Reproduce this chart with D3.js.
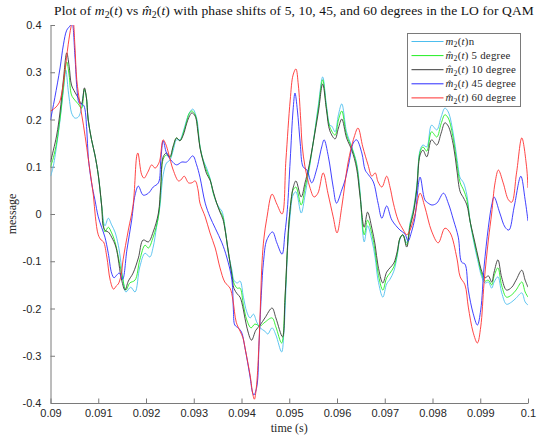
<!DOCTYPE html>
<html>
<head>
<meta charset="utf-8">
<script src="https://cdn.jsdelivr.net/npm/d3@7"></script>
<style>
  body { margin: 0; background: #fff; }
  svg { display: block; }
</style>
</head>
<body>
<svg id="chart" width="537" height="439"></svg>
<script>
// ---- data ----
const xTicks = [0.09, 0.091, 0.092, 0.093, 0.094, 0.095, 0.096, 0.097, 0.098, 0.099, 0.1];
const xTickLabels = ['0.09', '0.091', '0.092', '0.093', '0.094', '0.095', '0.096', '0.097', '0.098', '0.099', '0.1'];
const yTicks = [-0.4, -0.3, -0.2, -0.1, 0, 0.1, 0.2, 0.3, 0.4];
const yTickLabels = ['-0.4', '-0.3', '-0.2', '-0.1', '0', '0.1', '0.2', '0.3', '0.4'];

const seriesLabels = ['n', ' 5 degree', ' 10 degree', ' 45 degree', ' 60 degree'];
const seriesHat = [false, true, true, true, true];
const seriesColors = ['#4DBEEE', '#22ee22', '#3a3a3a', '#2b2bff', '#ff3030'];

// m2(t) original
const tOrig = [0.09, 0.09005, 0.09013, 0.0902, 0.09027, 0.09032, 0.09037, 0.09041, 0.09044, 0.09051, 0.09058, 0.09063, 0.09071, 0.09075, 0.09079, 0.09086, 0.09093,
  0.091, 0.09107, 0.09114, 0.09121, 0.09128, 0.09135, 0.09142, 0.09146, 0.09152, 0.09158, 0.09168, 0.09177, 0.09187, 0.09198, 0.09208, 0.09215, 0.09222, 0.09229,
  0.09236, 0.09243, 0.0925, 0.09257, 0.09264, 0.09271, 0.09278, 0.09285, 0.09292, 0.09298, 0.09306, 0.09313, 0.0932, 0.09327, 0.09334, 0.09341, 0.09348, 0.09355,
  0.09359, 0.09365, 0.09372, 0.0938, 0.09384, 0.09391, 0.09397, 0.09404, 0.09411, 0.09418, 0.09425, 0.09432, 0.09439, 0.09449, 0.09455, 0.09464, 0.09472, 0.09484,
  0.09489, 0.09493, 0.09497, 0.09502, 0.09508, 0.09514, 0.09525, 0.09533, 0.0954, 0.0955, 0.09561, 0.0957, 0.09578, 0.09585, 0.09589, 0.09596, 0.09603, 0.0961,
  0.0962, 0.09631, 0.09641, 0.09648, 0.09657, 0.09664, 0.09673, 0.0968, 0.09686, 0.09696, 0.09704, 0.09711, 0.09719, 0.09726, 0.09732, 0.09738, 0.09746, 0.09753,
  0.0976, 0.09767, 0.09774, 0.0978, 0.09788, 0.09798, 0.09809, 0.09818, 0.09826, 0.09833, 0.09844, 0.09851, 0.09858, 0.09861, 0.09865, 0.09872, 0.09879, 0.09889,
  0.09896, 0.09903, 0.0991, 0.09917, 0.09924, 0.09929, 0.09937, 0.09945, 0.09955, 0.09966, 0.09975, 0.09987, 0.09994, 0.1];
const vOrig = [0.080, 0.097, 0.146, 0.199, 0.262, 0.305, 0.262, 0.231, 0.214, 0.203, 0.205, 0.216, 0.262, 0.248, 0.199, 0.157, 0.125,
  0.083, 0.019, -0.025, -0.009, -0.023, -0.038, -0.066, -0.091, -0.140, -0.165, -0.155, -0.165, -0.112, -0.083, -0.091, -0.070, -0.028, 0.015,
  0.083, 0.108, 0.114, 0.135, 0.157, 0.157, 0.174, 0.199, 0.216, 0.222, 0.203, 0.144, 0.114, 0.097, 0.076, 0.044, 0.023, 0.011,
  0.006, -0.025, -0.080, -0.119, -0.140, -0.146, -0.142, -0.176, -0.207, -0.220, -0.212, -0.229, -0.241, -0.248, -0.254, -0.241, -0.256, -0.292,
  -0.246, -0.161, -0.066, -0.002, 0.040, 0.047, 0.002, 0.040, 0.083, 0.150, 0.231, 0.290, 0.229, 0.188, 0.186, 0.174, 0.210, 0.233,
  0.174, 0.142, 0.108, 0.051, -0.059, -0.025, -0.055, -0.093, -0.140, -0.176, -0.148, -0.138, -0.121, -0.089, -0.053, -0.044, -0.061, -0.019,
  0.011, 0.059, 0.135, 0.146, 0.142, 0.188, 0.178, 0.205, 0.224, 0.216, 0.167, 0.119, 0.076, 0.072, 0.066, 0.040, -0.017, -0.072,
  -0.104, -0.133, -0.146, -0.144, -0.157, -0.144, -0.133, -0.167, -0.191, -0.186, -0.178, -0.167, -0.186, -0.193];

// 5 degree
const t5 = [0.09, 0.09006, 0.09013, 0.0902, 0.09027, 0.09034, 0.09039, 0.09044, 0.09051, 0.09058, 0.09065, 0.09071, 0.09075, 0.09079, 0.09086, 0.09093,
  0.091, 0.09107, 0.09111, 0.09114, 0.09121, 0.09128, 0.09135, 0.09149, 0.09158, 0.09166, 0.09177, 0.09187, 0.09198, 0.09205, 0.09215, 0.09226, 0.09231,
  0.09236, 0.09243, 0.0925, 0.09257, 0.09264, 0.09271, 0.09278, 0.09285, 0.0929, 0.09296, 0.09303, 0.09309, 0.09313, 0.0932, 0.09327, 0.09334, 0.09341,
  0.09348, 0.09355, 0.09361, 0.09365, 0.09372, 0.0938, 0.09384, 0.09391, 0.09397, 0.09404, 0.09411, 0.0942, 0.09428, 0.09439, 0.09449, 0.09464, 0.09472,
  0.09484, 0.09491, 0.09495, 0.09499, 0.09504, 0.09508, 0.09514, 0.09525, 0.09533, 0.0954, 0.0955, 0.09561, 0.0957, 0.09578, 0.09585, 0.09596, 0.09603,
  0.0961, 0.0962, 0.09631, 0.09641, 0.09648, 0.09657, 0.09664, 0.09673, 0.0968, 0.09686, 0.09696, 0.09704, 0.09711, 0.09719, 0.09726, 0.09732, 0.09738,
  0.09746, 0.09753, 0.0976, 0.09767, 0.09774, 0.0978, 0.09788, 0.09798, 0.09809, 0.09818, 0.09826, 0.09833, 0.09844, 0.09851, 0.09858, 0.09865, 0.09872,
  0.09879, 0.09889, 0.09896, 0.09903, 0.0991, 0.09917, 0.09924, 0.09929, 0.09937, 0.09945, 0.09955, 0.09966, 0.09975, 0.09987, 0.09994, 0.1];
const v5 = [0.100, 0.119, 0.152, 0.203, 0.267, 0.322, 0.294, 0.252, 0.241, 0.233, 0.224, 0.265, 0.248, 0.199, 0.157, 0.125,
  0.083, 0.019, -0.025, -0.038, -0.028, -0.040, -0.059, -0.125, -0.161, -0.146, -0.140, -0.097, -0.066, -0.072, -0.049, -0.006, 0.055,
  0.116, 0.125, 0.119, 0.142, 0.161, 0.155, 0.171, 0.195, 0.212, 0.218, 0.210, 0.176, 0.142, 0.112, 0.091, 0.074, 0.044,
  0.023, 0.006, -0.006, -0.028, -0.078, -0.127, -0.146, -0.157, -0.157, -0.193, -0.224, -0.241, -0.233, -0.237, -0.229, -0.220, -0.239,
  -0.273, -0.182, -0.097, -0.023, 0.030, 0.051, 0.057, 0.019, 0.055, 0.089, 0.150, 0.224, 0.284, 0.224, 0.184, 0.167, 0.199,
  0.218, 0.167, 0.140, 0.104, 0.044, -0.044, -0.013, -0.042, -0.080, -0.125, -0.161, -0.135, -0.125, -0.112, -0.085, -0.051, -0.044,
  -0.066, -0.023, 0.006, 0.055, 0.131, 0.142, 0.133, 0.174, 0.163, 0.191, 0.210, 0.203, 0.157, 0.108, 0.066, 0.051, 0.030,
  -0.017, -0.066, -0.097, -0.127, -0.142, -0.140, -0.150, -0.131, -0.114, -0.152, -0.176, -0.171, -0.161, -0.144, -0.165, -0.176];

// 10 degree
const t10 = [0.09, 0.09006, 0.09013, 0.0902, 0.09027, 0.09034, 0.09039, 0.09044, 0.09051, 0.09058, 0.09065, 0.09071, 0.09075, 0.09079, 0.09086, 0.09093,
  0.091, 0.09107, 0.09111, 0.09116, 0.09121, 0.09128, 0.09137, 0.09149, 0.09156, 0.09163, 0.09173, 0.09184, 0.09194, 0.09205, 0.09215, 0.09226, 0.09231,
  0.09236, 0.09243, 0.0925, 0.09257, 0.09264, 0.09271, 0.09278, 0.09285, 0.0929, 0.09296, 0.09303, 0.09309, 0.09313, 0.0932, 0.09327, 0.09334, 0.09341,
  0.09348, 0.09355, 0.09361, 0.09365, 0.09372, 0.0938, 0.09384, 0.09391, 0.09397, 0.09404, 0.09411, 0.09421, 0.0943, 0.09439, 0.09449, 0.09464, 0.09472,
  0.09486, 0.09491, 0.09495, 0.09499, 0.09504, 0.09508, 0.09514, 0.09525, 0.09533, 0.0954, 0.0955, 0.09561, 0.0957, 0.09578, 0.09585, 0.09596, 0.09603,
  0.0961, 0.0962, 0.09631, 0.09641, 0.09648, 0.09657, 0.09664, 0.09673, 0.0968, 0.09686, 0.09696, 0.09704, 0.09711, 0.09719, 0.09726, 0.09732, 0.09738,
  0.09746, 0.09753, 0.0976, 0.09767, 0.09774, 0.0978, 0.09788, 0.09798, 0.09809, 0.09818, 0.09826, 0.09833, 0.09844, 0.09851, 0.09858, 0.09865, 0.09872,
  0.09879, 0.09889, 0.09896, 0.09903, 0.0991, 0.09917, 0.09924, 0.09929, 0.09937, 0.09945, 0.09955, 0.09966, 0.09975, 0.09987, 0.09994, 0.1];
const v10 = [0.110, 0.135, 0.167, 0.216, 0.284, 0.341, 0.313, 0.273, 0.258, 0.246, 0.233, 0.267, 0.248, 0.199, 0.157, 0.125,
  0.083, 0.019, -0.028, -0.036, -0.038, -0.049, -0.070, -0.140, -0.161, -0.142, -0.125, -0.093, -0.055, -0.059, -0.038, 0.002, 0.061,
  0.121, 0.129, 0.121, 0.144, 0.161, 0.155, 0.167, 0.191, 0.205, 0.214, 0.207, 0.171, 0.140, 0.110, 0.085, 0.072, 0.047,
  0.023, 0.004, -0.011, -0.030, -0.076, -0.131, -0.157, -0.169, -0.176, -0.203, -0.239, -0.267, -0.246, -0.235, -0.220, -0.199, -0.220,
  -0.260, -0.182, -0.097, -0.023, 0.030, 0.055, 0.070, 0.036, 0.066, 0.095, 0.150, 0.216, 0.275, 0.220, 0.176, 0.159, 0.182,
  0.201, 0.161, 0.135, 0.097, 0.040, -0.028, 0.004, -0.030, -0.066, -0.110, -0.146, -0.123, -0.114, -0.104, -0.080, -0.051, -0.044,
  -0.070, -0.028, 0.002, 0.051, 0.125, 0.135, 0.121, 0.157, 0.146, 0.171, 0.193, 0.186, 0.144, 0.093, 0.047, 0.034, 0.019,
  -0.017, -0.061, -0.093, -0.121, -0.135, -0.131, -0.144, -0.123, -0.097, -0.135, -0.161, -0.155, -0.140, -0.119, -0.140, -0.155];

// 45 degree
const t45 = [0.09, 0.09009, 0.0902, 0.09027, 0.09034, 0.09041, 0.09045, 0.09051, 0.09056, 0.0906, 0.09065, 0.0907, 0.09076, 0.09079, 0.09086, 0.09093,
  0.091, 0.09107, 0.09114, 0.09121, 0.09128, 0.09133, 0.09139, 0.09144, 0.09151, 0.0916, 0.0917, 0.09177, 0.09184, 0.09194, 0.09205, 0.09215, 0.09226,
  0.09231, 0.09236, 0.09243, 0.09254, 0.09264, 0.09275, 0.09285, 0.09298, 0.09306, 0.09313, 0.09324, 0.09334, 0.09345, 0.09359, 0.09369, 0.0938, 0.09383,
  0.09386, 0.09393, 0.094, 0.09407, 0.09418, 0.09423, 0.09426, 0.09432, 0.09437, 0.09442, 0.09446, 0.09453, 0.09465, 0.09474, 0.09485, 0.09491, 0.09496,
  0.09502, 0.09508, 0.09512, 0.09517, 0.09523, 0.09529, 0.09537, 0.09547, 0.09557, 0.09568, 0.09573, 0.09582, 0.09592, 0.09599, 0.0961, 0.09617, 0.09625,
  0.09634, 0.09641, 0.09652, 0.09659, 0.09666, 0.09676, 0.09686, 0.09694, 0.09704, 0.09715, 0.09732, 0.09742, 0.09749, 0.09756, 0.09763, 0.09774, 0.09784,
  0.09791, 0.09799, 0.09809, 0.09823, 0.09833, 0.09844, 0.09854, 0.09861, 0.09868, 0.09875, 0.09885, 0.09894, 0.09901, 0.09908, 0.09917, 0.09924, 0.09929,
  0.09941, 0.09952, 0.0996, 0.09971, 0.09985, 0.09994, 0.1];
const v45 = [0.199, 0.246, 0.309, 0.358, 0.389, 0.398, 0.404, 0.337, 0.258, 0.235, 0.233, 0.229, 0.178, 0.121, 0.066, 0.030,
  -0.006, -0.028, -0.049, -0.083, -0.125, -0.135, -0.129, -0.125, -0.138, -0.076, -0.013, 0.040, 0.059, 0.040, 0.044, 0.057, 0.066,
  0.114, 0.155, 0.129, 0.112, 0.104, 0.110, 0.110, 0.123, 0.104, 0.078, 0.023, -0.006, -0.030, -0.061, -0.091, -0.140, -0.203,
  -0.235, -0.241, -0.250, -0.282, -0.345, -0.377, -0.383, -0.366, -0.267, -0.161, -0.102, -0.055, -0.038, -0.061, -0.085, -0.040, 0.009,
  0.114, 0.220, 0.256, 0.220, 0.150, 0.100, 0.093, 0.066, 0.093, 0.142, 0.157, 0.121, 0.057, 0.023, 0.051, 0.072, 0.108,
  0.150, 0.157, 0.129, 0.093, 0.083, 0.068, 0.023, -0.009, 0.017, -0.013, -0.034, -0.042, -0.057, -0.038, -0.009, 0.078, 0.030,
  0.023, 0.019, 0.023, 0.044, 0.023, -0.013, -0.049, -0.102, -0.106, -0.161, -0.210, -0.235, -0.203, -0.112, -0.028, 0.019, 0.036,
  0.002, -0.028, -0.034, 0.015, 0.080, 0.030, -0.015];

// 60 degree
const t60 = [0.09, 0.09009, 0.09018, 0.09024, 0.0903, 0.09037, 0.09043, 0.09047, 0.09051, 0.09055, 0.09062, 0.09069, 0.09076, 0.09083, 0.0909, 0.09094,
  0.091, 0.09106, 0.09111, 0.09118, 0.09125, 0.09132, 0.09138, 0.09142, 0.09148, 0.09152, 0.09163, 0.09173, 0.09181, 0.09183, 0.09191, 0.09196, 0.09204,
  0.09212, 0.09219, 0.09225, 0.09229, 0.09236, 0.09242, 0.09247, 0.09257, 0.09268, 0.09273, 0.0928, 0.09289, 0.09296, 0.09303, 0.09309, 0.09313, 0.09324,
  0.09334, 0.09345, 0.09355, 0.09365, 0.09376, 0.09382, 0.09389, 0.09397, 0.09403, 0.09409, 0.09418, 0.09424, 0.09427, 0.09431, 0.09436, 0.0944, 0.09443,
  0.09447, 0.09453, 0.09464, 0.09474, 0.09485, 0.09493, 0.09502, 0.09508, 0.09514, 0.09519, 0.09524, 0.09527, 0.09533, 0.09543, 0.09552, 0.0956, 0.09571,
  0.09581, 0.09592, 0.096, 0.0961, 0.09623, 0.09636, 0.09644, 0.09654, 0.09665, 0.09673, 0.0968, 0.09686, 0.09694, 0.09704, 0.09711, 0.09718, 0.09728,
  0.09739, 0.09746, 0.09753, 0.09763, 0.09774, 0.09784, 0.09798, 0.09812, 0.09826, 0.09837, 0.09851, 0.09858, 0.09868, 0.09875, 0.09885, 0.09894, 0.09901,
  0.09908, 0.09917, 0.09924, 0.09931, 0.09938, 0.09948, 0.09959, 0.09966, 0.09976, 0.09987, 0.09997, 0.1];
const v60 = [0.218, 0.224, 0.235, 0.258, 0.301, 0.358, 0.396, 0.410, 0.358, 0.284, 0.231, 0.188, 0.140, 0.089, 0.038, -0.006,
  -0.044, -0.055, -0.059, -0.091, -0.140, -0.159, -0.152, -0.148, -0.129, -0.097, -0.034, 0.019, 0.125, 0.129, 0.083, 0.076, 0.089,
  0.104, 0.097, 0.104, 0.114, 0.157, 0.146, 0.129, 0.093, 0.070, 0.072, 0.080, 0.066, 0.066, 0.070, 0.051, 0.023, -0.006,
  -0.040, -0.072, -0.114, -0.144, -0.157, -0.182, -0.229, -0.248, -0.262, -0.292, -0.341, -0.383, -0.392, -0.368, -0.288, -0.182, -0.102,
  -0.051, -0.009, 0.042, 0.021, 0.000, 0.114, 0.241, 0.294, 0.307, 0.273, 0.199, 0.146, 0.100, 0.057, 0.036, 0.044, 0.087,
  0.044, -0.006, -0.040, 0.015, 0.108, 0.163, 0.182, 0.142, 0.104, 0.080, 0.087, 0.068, 0.057, 0.080, 0.057, 0.023, -0.013,
  -0.034, -0.044, -0.034, -0.002, 0.044, 0.015, -0.036, -0.061, -0.030, -0.040, -0.093, -0.133, -0.150, -0.197, -0.250, -0.273, -0.239,
  -0.146, -0.055, 0.002, 0.066, 0.093, 0.066, 0.030, 0.025, 0.087, 0.161, 0.100, 0.055];

const seriesT = [tOrig, t5, t10, t45, t60];
const seriesV = [vOrig, v5, v10, v45, v60];

// ---- layout ----
const W = 537, H = 439;
const svg = d3.select('#chart');
const x = d3.scaleLinear().domain([0.09, 0.1]).range([50.5, 528]);
const y = d3.scaleLinear().domain([-0.4, 0.4]).range([403, 25]);
const axisCol = '#262626';
const serif = "'Liberation Serif', 'Times New Roman', serif";
const sans = "'Liberation Sans', Arial, Helvetica, sans-serif";

svg.append('rect').attr('width', W).attr('height', H).attr('fill', '#fff');

svg.append('clipPath').attr('id', 'plotClip')
  .append('rect')
    .attr('x', x(0.09)).attr('y', y(0.4))
    .attr('width', x(0.1) - x(0.09)).attr('height', y(-0.4) - y(0.4));

// axes, ticks pointing inward like matlab
const xAxis = svg.append('g')
  .attr('transform', `translate(0,${y(-0.4)})`)
  .call(d3.axisBottom(x).tickValues(xTicks)
    .tickFormat((d, i) => xTickLabels[i])
    .tickSizeInner(-4.5).tickSizeOuter(0).tickPadding(6));

const yAxis = svg.append('g')
  .attr('transform', `translate(${x(0.09)},0)`)
  .call(d3.axisLeft(y).tickValues(yTicks)
    .tickFormat((d, i) => yTickLabels[i])
    .tickSizeInner(-4.5).tickSizeOuter(0).tickPadding(9));

[xAxis, yAxis].forEach(g => {
  g.select('.domain').attr('stroke', '#7a7a7a').attr('stroke-width', 1);
  g.selectAll('.tick line').attr('stroke', '#7a7a7a');
  g.selectAll('.tick text')
    .attr('fill', axisCol)
    .style('font-family', sans)
    .style('font-size', '11px');
});

// lines
const line = d3.line().curve(d3.curveCatmullRom.alpha(0.5));
const plot = svg.append('g').attr('clip-path', 'url(#plotClip)');
seriesT.forEach((ts, k) => {
  const pts = ts.map((t, i) => [x(t), y(seriesV[k][i])]);
  plot.append('path')
    .attr('d', line(pts))
    .attr('fill', 'none')
    .attr('stroke', seriesColors[k])
    .attr('stroke-width', 0.9)
    .attr('stroke-linejoin', 'round');
});

// m_2(t), hat done with a combining circumflex so it stays one glyph run
function mathLabel(sel, hat, fs) {
  sel.append('tspan').style('font-style', 'italic').text(hat ? 'm\u0302' : 'm');
  sel.append('tspan').attr('dy', fs * 0.22).style('font-size', (fs * 0.72) + 'px').text('2');
  sel.append('tspan').attr('dy', -fs * 0.22).text('(');
  sel.append('tspan').style('font-style', 'italic').text('t');
  sel.append('tspan').text(')');
}

// title
const titleSize = 13.5;
const title = svg.append('text')
  .attr('x', 294).attr('y', 15)
  .attr('text-anchor', 'middle')
  .attr('fill', '#111')
  .style('font-family', serif)
  .style('font-size', titleSize + 'px')
  .style('letter-spacing', '0.12px');
title.append('tspan').text('Plot of ');
mathLabel(title, false, titleSize);
title.append('tspan').text(' vs ');
mathLabel(title, true, titleSize);
title.append('tspan')
  .text(' with phase shifts of 5, 10, 45, and 60 degrees in the LO for QAM');

// axis labels
svg.append('text')
  .attr('x', (x(0.09) + x(0.1)) / 2).attr('y', 432)
  .attr('text-anchor', 'middle')
  .attr('fill', axisCol)
  .style('font-family', serif).style('font-size', '12px')
  .text('time (s)');

svg.append('text')
  .attr('transform', `translate(16,${y(0)}) rotate(-90)`)
  .attr('text-anchor', 'middle')
  .attr('fill', axisCol)
  .style('font-family', serif).style('font-size', '12px')
  .text('message');

// legend
const legendSize = 10.8;
const lg = svg.append('g');
lg.append('rect')
  .attr('x', 407.5).attr('y', 33.5).attr('width', 113).attr('height', 73)
  .attr('fill', '#fff').attr('stroke', '#7a7a7a').attr('stroke-width', 1);
seriesLabels.forEach((lab, k) => {
  const ly = 41.5 + k * 14.1;
  lg.append('line')
    .attr('x1', 411.5).attr('x2', 443.5).attr('y1', ly).attr('y2', ly)
    .attr('stroke', seriesColors[k]).attr('stroke-width', 1);
  const tx = lg.append('text')
    .attr('x', 445.5).attr('y', ly + 3.5)
    .attr('fill', axisCol)
    .style('font-family', serif).style('font-size', legendSize + 'px')
    .style('letter-spacing', '0.25px');
  mathLabel(tx, seriesHat[k], legendSize);
  tx.append('tspan').text(lab);
});
</script>
</body>
</html>
